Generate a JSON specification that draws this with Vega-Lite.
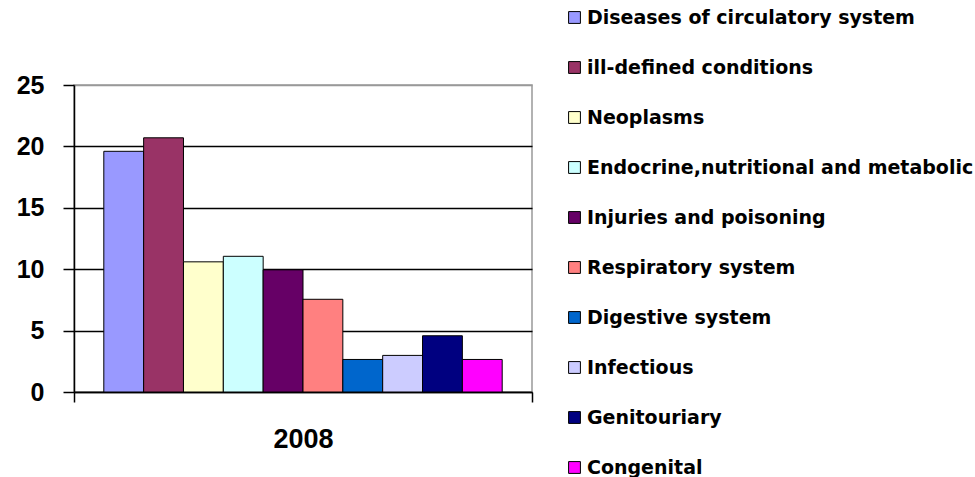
{
  "$schema": "https://vega.github.io/schema/vega-lite/v6.json",
  "autosize": {"type": "none"},
  "width": 458,
  "height": 307,
  "padding": {"left": 74, "top": 85, "right": 443, "bottom": 85},
  "background": "white",
  "config": {
    "view": {"stroke": "#999999", "strokeWidth": 1.5},
    "font": "Liberation Sans"
  },
  "data": {
    "values": [
      {"year": "2008", "cause": "Diseases of circulatory system", "value": 19.6},
      {"year": "2008", "cause": "ill-defined conditions", "value": 20.7},
      {"year": "2008", "cause": "Neoplasms", "value": 10.6},
      {"year": "2008", "cause": "Endocrine,nutritional and metabolic", "value": 11.05},
      {"year": "2008", "cause": "Injuries and poisoning", "value": 9.95},
      {"year": "2008", "cause": "Respiratory system", "value": 7.55},
      {"year": "2008", "cause": "Digestive system", "value": 2.65},
      {"year": "2008", "cause": "Infectious", "value": 2.98},
      {"year": "2008", "cause": "Genitouriary", "value": 4.58},
      {"year": "2008", "cause": "Congenital", "value": 2.65}
    ]
  },
  "mark": {"type": "bar", "stroke": "black", "strokeWidth": 1},
  "encoding": {
    "x": {
      "field": "year",
      "type": "nominal",
      "scale": {"paddingInner": 0, "paddingOuter": 0},
      "axis": {
        "title": null,
        "labelAngle": 0,
        "tickBand": "extent",
        "domainColor": "black",
        "domainWidth": 1.5,
        "tickColor": "black",
        "tickWidth": 1.5,
        "tickSize": 10,
        "labelFont": "Liberation Sans",
        "labelFontWeight": "bold",
        "labelFontSize": 27,
        "labelColor": "black",
        "labelPadding": 24
      }
    },
    "xOffset": {
      "field": "cause",
      "type": "nominal",
      "sort": null,
      "scale": {"paddingInner": 0, "paddingOuter": 0.748}
    },
    "y": {
      "field": "value",
      "type": "quantitative",
      "scale": {"domain": [0, 25], "nice": false},
      "axis": {
        "title": null,
        "values": [0, 5, 10, 15, 20, 25],
        "grid": true,
        "gridColor": {"condition": {"test": "datum.value == 25", "value": "#999999"}, "value": "black"},
        "gridWidth": 1.5,
        "domainColor": "black",
        "domainWidth": 1.5,
        "tickColor": "black",
        "tickWidth": 1.5,
        "tickSize": 11,
        "labelFont": "Liberation Sans",
        "labelFontWeight": "bold",
        "labelFontSize": 25,
        "labelColor": "black",
        "labelPadding": 19
      }
    },
    "color": {
      "field": "cause",
      "type": "nominal",
      "sort": null,
      "scale": {
        "domain": ["Diseases of circulatory system", "ill-defined conditions", "Neoplasms", "Endocrine,nutritional and metabolic", "Injuries and poisoning", "Respiratory system", "Digestive system", "Infectious", "Genitouriary", "Congenital"],
        "range": ["#9999FF", "#993366", "#FFFFCC", "#CCFFFF", "#660066", "#FF8080", "#0066CC", "#CCCCFF", "#000080", "#FF00FF"]
      },
      "legend": {
        "title": null,
        "orient": "none",
        "legendX": 491,
        "legendY": -77,
        "padding": 0,
        "symbolType": "square",
        "symbolSize": 140,
        "symbolStrokeColor": "black",
        "symbolStrokeWidth": 1,
        "symbolOpacity": 1,
        "labelFont": "DejaVu Sans",
        "labelFontWeight": "bold",
        "labelFontSize": 19,
        "labelColor": "black",
        "labelOffset": 3,
        "labelLimit": 0,
        "rowPadding": 30
      }
    }
  }
}
